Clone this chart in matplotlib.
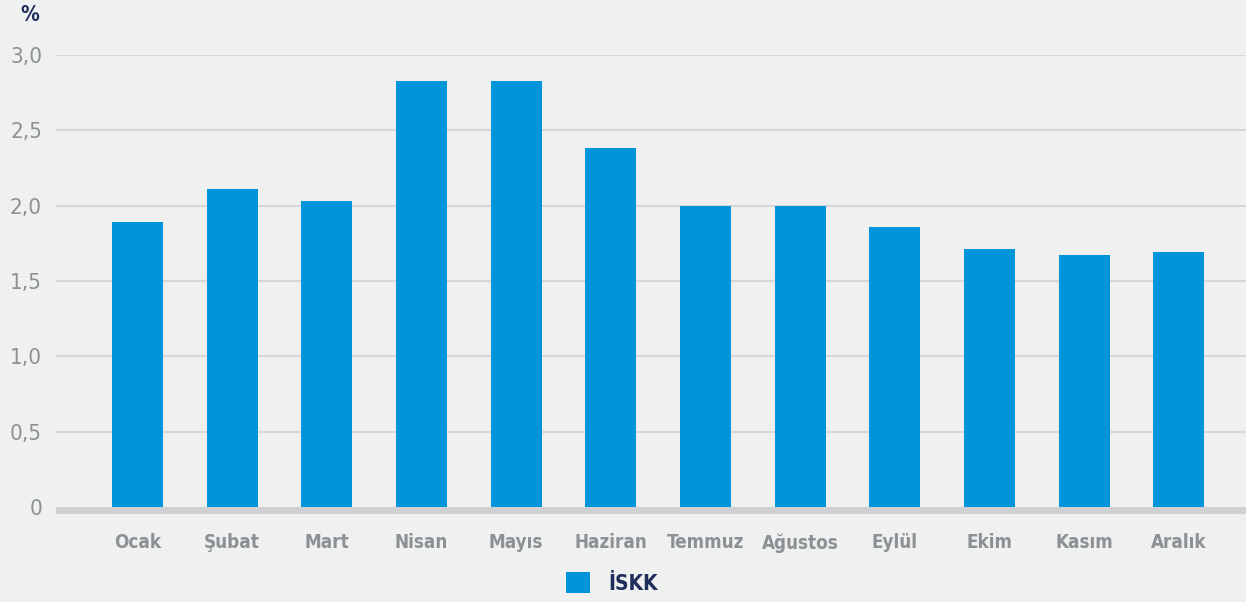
import numpy as np
import matplotlib
matplotlib.use("Agg")
import matplotlib.pyplot as plt
from matplotlib.patches import Patch

# monthly values
months = ["Ocak", "Şubat", "Mart", "Nisan", "Mayıs", "Haziran",
          "Temmuz", "Ağustos", "Eylül", "Ekim", "Kasım", "Aralık"]
iskk = [1.89, 2.11, 2.03, 2.83, 2.83, 2.38, 2.00, 2.00, 1.86, 1.71, 1.67, 1.69]
yticks = [0, 0.5, 1.0, 1.5, 2.0, 2.5, 3.0]
ytick_labels = ["0", "0,5", "1,0", "1,5", "2,0", "2,5", "3,0"]

plt.rcParams['font.family'] = ['DejaVu Sans']
plt.rcParams['font.stretch'] = 'condensed'

bg = "#eff0f0"
bar_col = "#0095db"
grey_txt = "#8d9094"
navy = "#1f2d5c"

fig = plt.figure(figsize=(12.46, 6.02), dpi=100, facecolor=bg)
ax = fig.add_axes([56 / 1246, 1 - 514 / 602, 1 - 56 / 1246, (514 - 55) / 602])
ax.set_facecolor(bg)

x = np.arange(len(months))
ax.bar(x, iskk, width=0.54, color=bar_col, zorder=3)

# thick grey baseline below zero
ax.axhspan(-0.046, 0, color="#cfd0d2", zorder=2, lw=0)
for yv in yticks[1:]:
    ax.axhline(yv, color="#d6d7d9", lw=1.5, zorder=1)

ax.set_xlim(-0.86, 11.71)
ax.set_ylim(-0.046, 3.0)
ax.set_xticks(x)
ax.set_xticklabels(months, fontsize=13.5, color=grey_txt, fontweight="bold")
ax.set_yticks(yticks)
ax.set_yticklabels(ytick_labels, fontsize=16, color=grey_txt)
ax.tick_params(axis="both", length=0)
ax.tick_params(axis="x", pad=14)
ax.tick_params(axis="y", pad=10)
for s in ax.spines.values():
    s.set_visible(False)

fig.text(20 / 1246, 1 - 15 / 602, "%", fontsize=15, color=navy, va="center",
         ha="left", fontweight="bold")

fig.legend(handles=[Patch(facecolor=bar_col, label="İSKK")], loc="center",
           bbox_to_anchor=(612 / 1246, 1 - 583 / 602), frameon=False,
           prop={"size": 15, "weight": "bold"}, labelcolor=navy,
           handlelength=1.15, handleheight=1.15, handletextpad=0.9)

fig.savefig("out.png", dpi=100, facecolor=bg)
